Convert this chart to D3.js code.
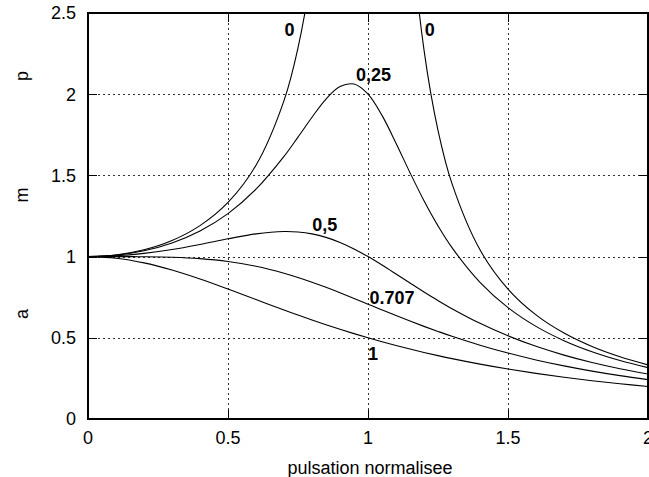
<!DOCTYPE html>
<html>
<head>
<meta charset="utf-8">
<script src="https://cdn.jsdelivr.net/npm/d3@7"></script>
<style>
  html, body { margin: 0; padding: 0; background: #fff; }
  svg { display: block; }
  text { font-family: "Liberation Sans", Arial, Helvetica, sans-serif; }
</style>
</head>
<body>
<svg id="chart" width="649" height="477"></svg>
<script>
// ---- data ----
const pulsation = [0,0.1,0.2,0.3,0.4,0.5,0.6,0.7,0.75,0.8,0.85,0.9,0.95,1.0,1.05,1.1,1.15,1.2,1.25,1.3,1.4,1.5,1.6,1.7,1.8,1.9,2.0];
const ampZeta0    = [1,1.0101,1.0417,1.0989,1.1905,1.3333,1.5625,1.9608,2.2857,2.7778,3.6036,5.2632,null,null,null,4.7619,3.1008,2.2727,1.7778,1.4493,1.0417,0.8,0.641,0.5291,0.4464,0.3831,0.3333];
const ampZeta025  = [1,1.0088,1.0361,1.0843,1.1581,1.2649,1.4148,1.6167,1.7355,1.8582,1.9702,2.0472,2.0623,2.0,1.8695,1.6986,1.5168,1.344,1.1893,1.0549,0.8417,0.686,0.5704,0.4825,0.4142,0.36,0.3162];
const ampZeta05   = [1,1.005,1.0198,1.0436,1.0748,1.1094,1.1399,1.1546,1.1517,1.1399,1.1184,1.0872,1.0471,1.0,0.9479,0.893,0.8373,0.7824,0.7295,0.6795,0.5891,0.5121,0.4475,0.3934,0.348,0.3098,0.2774];
const ampZeta0707 = [1,0.99995,0.9992,0.996,0.9874,0.9701,0.9409,0.898,0.8716,0.8423,0.8106,0.7771,0.7424,0.7071,0.6718,0.637,0.6031,0.5704,0.5391,0.5092,0.4545,0.4061,0.3638,0.327,0.2949,0.267,0.2425];
const ampZeta1    = [1,0.9901,0.9615,0.9174,0.8621,0.8,0.7353,0.6711,0.64,0.6098,0.5806,0.5525,0.5256,0.5,0.4756,0.4525,0.4306,0.4098,0.3902,0.3717,0.3378,0.3077,0.2809,0.2571,0.2358,0.2169,0.2];
const seriesList = [ampZeta0, ampZeta025, ampZeta05, ampZeta0707, ampZeta1];

const xTickValues = [0, 0.5, 1, 1.5, 2];
const xTickLabels = ["0", "0.5", "1", "1.5", "2"];
const yTickValues = [0, 0.5, 1, 1.5, 2, 2.5];
const yTickLabels = ["0", "0.5", "1", "1.5", "2", "2.5"];
const xTitle = "pulsation normalisee";
const yTitleLetters = ["a", "m", "p"];

// curve annotations (anchored in data coordinates)
const curveLabels = [
  { text: "0",     u: 0.7196, a: 2.358 },
  { text: "0",     u: 1.221,  a: 2.358 },
  { text: "0,25",  u: 1.0196, a: 2.081 },
  { text: "0,5",   u: 0.846,  a: 1.158 },
  { text: "0.707", u: 1.086,  a: 0.708 },
  { text: "1",     u: 1.018,  a: 0.363 }
];

// ---- layout ----
const svg = d3.select("#chart");
const pLeft = 88, pRight = 648, pTop = 13, pBottom = 419;
const x = d3.scaleLinear().domain([0, 2]).range([pLeft, pRight]);
const y = d3.scaleLinear().domain([0, 2.5]).range([pBottom, pTop]);

svg.append("defs").append("clipPath").attr("id", "plotclip")
  .append("rect").attr("x", pLeft).attr("y", pTop)
  .attr("width", pRight - pLeft).attr("height", pBottom - pTop);

// grid
const grid = svg.append("g").attr("stroke", "#333").attr("stroke-width", 1)
  .attr("stroke-dasharray", "2,3").attr("fill", "none");
xTickValues.slice(1, -1).forEach(v => {
  grid.append("line").attr("x1", Math.round(x(v)) + 0.5).attr("x2", Math.round(x(v)) + 0.5)
    .attr("y1", pTop).attr("y2", pBottom);
});
yTickValues.slice(1, -1).forEach(v => {
  grid.append("line").attr("y1", Math.round(y(v)) + 0.5).attr("y2", Math.round(y(v)) + 0.5)
    .attr("x1", pLeft).attr("x2", pRight);
});

// ticks (inward, mirrored)
const tickLen = 9;
const ticks = svg.append("g").attr("stroke", "#000").attr("stroke-width", 1);
yTickValues.forEach(v => {
  const yy = Math.round(y(v)) + 0.5;
  ticks.append("line").attr("x1", pLeft).attr("x2", pLeft + tickLen).attr("y1", yy).attr("y2", yy);
  ticks.append("line").attr("x1", pRight - tickLen).attr("x2", pRight).attr("y1", yy).attr("y2", yy);
});
xTickValues.forEach(v => {
  const xx = Math.round(x(v)) + 0.5;
  ticks.append("line").attr("y1", pBottom).attr("y2", pBottom - tickLen).attr("x1", xx).attr("x2", xx);
  ticks.append("line").attr("y1", pTop).attr("y2", pTop + tickLen).attr("x1", xx).attr("x2", xx);
});

// curves
const line = d3.line()
  .defined(d => d[1] !== null)
  .x(d => x(d[0]))
  .y(d => y(d[1]))
  .curve(d3.curveCatmullRom.alpha(0.5));
const curves = svg.append("g").attr("clip-path", "url(#plotclip)");
seriesList.forEach(vals => {
  const pts = pulsation.map((u, i) => [u, vals[i]]);
  curves.append("path").attr("d", line(pts))
    .attr("fill", "none").attr("stroke", "#000").attr("stroke-width", 1.1);
});

// border
svg.append("rect").attr("x", pLeft).attr("y", pTop)
  .attr("width", pRight - pLeft).attr("height", pBottom - pTop)
  .attr("fill", "none").attr("stroke", "#000").attr("stroke-width", 2);

// tick labels
xTickValues.forEach((v, i) => {
  svg.append("text").attr("x", x(v)).attr("y", pBottom + 25)
    .attr("text-anchor", "middle").attr("font-size", 18).attr("fill", "#000")
    .text(xTickLabels[i]);
});
yTickValues.forEach((v, i) => {
  svg.append("text").attr("x", pLeft - 12).attr("y", y(v)).attr("dy", "0.36em")
    .attr("text-anchor", "end").attr("font-size", 18).attr("fill", "#000")
    .text(yTickLabels[i]);
});

// axis titles
svg.append("text").attr("x", 370).attr("y", 474)
  .attr("text-anchor", "middle").attr("font-size", 18).attr("fill", "#000")
  .text(xTitle);
const letterY = [314, 195, 76];
yTitleLetters.forEach((t, i) => {
  svg.append("text")
    .attr("transform", `translate(21.5,${letterY[i]}) rotate(-90)`)
    .attr("text-anchor", "middle").attr("dy", "0.35em")
    .attr("font-size", 18).attr("fill", "#000").text(t);
});

// curve labels
curveLabels.forEach(l => {
  svg.append("text").attr("x", x(l.u)).attr("y", y(l.a))
    .attr("text-anchor", "middle").attr("font-size", 18).attr("font-weight", "bold")
    .attr("fill", "#000").text(l.text);
});
</script>
</body>
</html>
